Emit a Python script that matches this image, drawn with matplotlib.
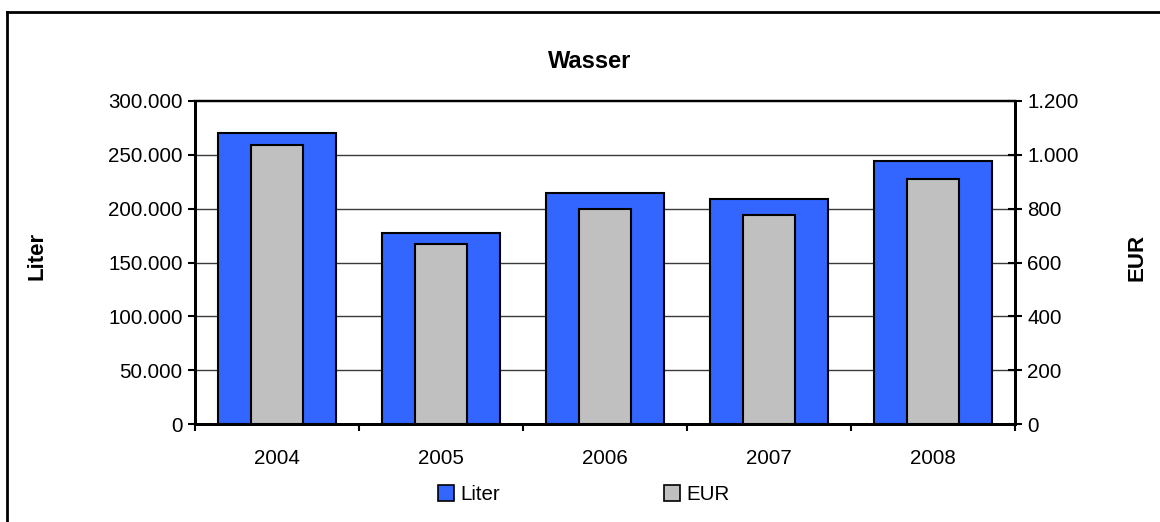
import matplotlib
matplotlib.use("Agg")
import matplotlib.pyplot as plt
from matplotlib.lines import Line2D
from matplotlib.ticker import FuncFormatter, FixedLocator
import numpy as np

years = ["2004", "2005", "2006", "2007", "2008"]
liter = [270500, 177500, 214500, 209300, 244500]
eur = [1038, 667, 800, 778, 912]
left_ticks = [0, 50000, 100000, 150000, 200000, 250000, 300000]
right_ticks = [0, 200, 400, 600, 800, 1000, 1200]

plt.rcParams['font.family'] = ['Liberation Sans', 'DejaVu Sans']
FS = 14.8
W, H = 1160, 522
fig = plt.figure(figsize=(W / 100, H / 100), dpi=100)

def fx(px):
    return px / W

def fy(py):
    return 1 - py / H

ax = fig.add_axes([fx(195), fy(424), fx(1015) - fx(195), fy(101) - fy(424)])
x = np.arange(len(years))

def dotfmt(v, pos):
    return f"{int(round(v)):,}".replace(",", ".")

ax.set_xlim(-0.5, len(years) - 0.5)
ax.set_ylim(0, 300000)
ax.set_yticks(left_ticks)
ax.yaxis.set_major_formatter(FuncFormatter(dotfmt))
for t in left_ticks[1:-1]:
    ax.axhline(t, color='#3a3a3a', lw=1.0, zorder=0)
ax.bar(x, liter, width=0.723, color='#3366FF', edgecolor='black', linewidth=1.5, zorder=2)

ax.xaxis.set_major_locator(FixedLocator(np.arange(-0.5, len(years), 1.0)))
ax.xaxis.set_major_formatter(FuncFormatter(lambda v, p: ""))
ax.xaxis.set_minor_locator(FixedLocator(x))
ax.set_xticklabels(years, minor=True)
ax.tick_params(axis='x', which='major', direction='out', length=5, width=1.5, color='black')
ax.tick_params(axis='x', which='minor', length=0, pad=18, labelsize=FS)
ax.tick_params(axis='y', direction='out', length=5, width=1.5, labelsize=FS, pad=4)

for s in ['left', 'bottom', 'right']:
    ax.spines[s].set_linewidth(2)
ax.spines['top'].set_linewidth(1.6)

ax2 = ax.twinx()
ax2.set_ylim(0, 1200)
ax2.set_yticks(right_ticks)
ax2.yaxis.set_major_formatter(FuncFormatter(dotfmt))
ax2.bar(x, eur, width=0.317, color='#C0C0C0', edgecolor='black', linewidth=1.5, zorder=3)
ax2.tick_params(axis='y', direction='inout', length=10, width=1.5, labelsize=FS, pad=4)
for s in ['left', 'bottom', 'right']:
    ax2.spines[s].set_linewidth(2)
ax2.spines['top'].set_linewidth(1.6)

fig.text(fx(590), fy(61), "Wasser", ha='center', va='center', fontsize=17, fontweight='bold')
fig.text(fx(37), fy(256), "Liter", ha='center', va='center', rotation=90, fontsize=16, fontweight='bold')
fig.text(fx(1137), fy(257), "EUR", ha='center', va='center', rotation=90, fontsize=16, fontweight='bold')

handles = [
    Line2D([], [], marker='s', linestyle='none', markersize=11, markerfacecolor='#3366FF', markeredgecolor='black', markeredgewidth=1.2),
    Line2D([], [], marker='s', linestyle='none', markersize=11, markerfacecolor='#C0C0C0', markeredgecolor='black', markeredgewidth=1.2),
]
fig.legend(handles, ["Liter", "EUR"], loc='center', bbox_to_anchor=(fx(584), fy(495)), ncol=2,
           frameon=False, fontsize=FS, handlelength=0.75, handletextpad=0.3, columnspacing=8.0,
           borderpad=0, borderaxespad=0)

fig.add_artist(Line2D([fx(7), fx(7)], [fy(12), 0], color='black', lw=2, transform=fig.transFigure))
fig.add_artist(Line2D([fx(7), 1], [fy(12), fy(12)], color='black', lw=2, transform=fig.transFigure))

fig.savefig("out.png", dpi=100)
